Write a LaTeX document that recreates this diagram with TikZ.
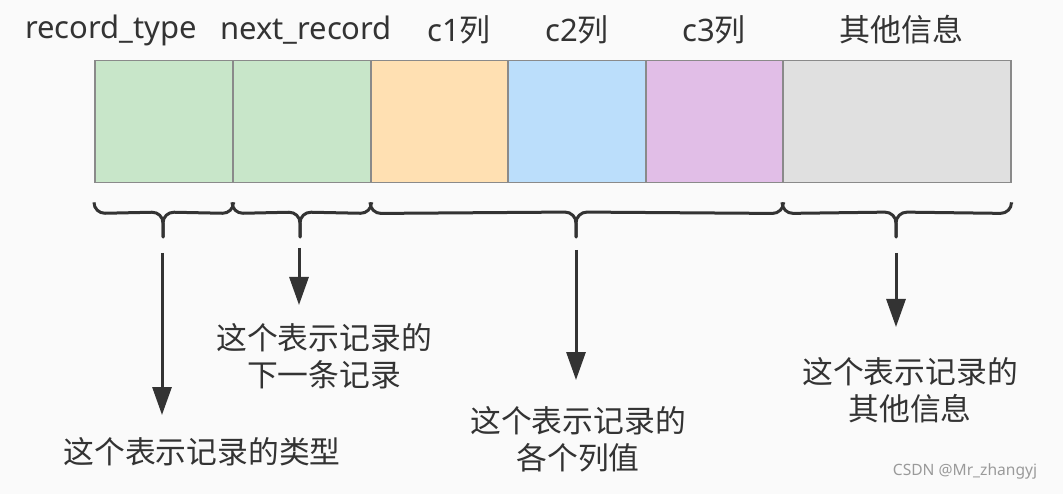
\documentclass[tikz,border=0pt]{standalone}
\usepackage{fontspec}
\setmainfont{Noto Sans}
\newfontfamily\cjk{Noto Sans CJK SC}
\usetikzlibrary{arrows.meta}
\definecolor{bgc}{HTML}{FAFAFA}
\definecolor{txt}{HTML}{333333}
\definecolor{edge}{HTML}{8A8A8A}
\definecolor{cgreen}{HTML}{C8E6C9}
\definecolor{corange}{HTML}{FFE0B2}
\definecolor{cblue}{HTML}{BBDEFB}
\definecolor{cpurple}{HTML}{E1BEE7}
\definecolor{cgray}{HTML}{E0E0E0}
\definecolor{wm}{HTML}{9A9A9A}
\tikzset{
  cell/.style={draw=edge, line width=1.5pt, inner sep=0pt, minimum height=122pt, anchor=north west},
  head/.style={text=txt, font=\fontsize{31}{37}\selectfont, inner sep=0pt},
  lbl/.style={text=txt, font=\fontsize{30.8}{37}\selectfont\cjk, align=center, inner sep=0pt},
  curly/.style={draw=txt, line width=3pt, rounded corners=11pt, line cap=round},
  arr/.style={draw=txt, line width=3pt, -{Triangle[length=28pt,width=19pt]}}
}
\begin{document}
\begin{tikzpicture}[x=1pt,y=-1pt]
\fill[bgc] (0,0) rectangle (1063,494);
\useasboundingbox (0,0) rectangle (1063,494);

% cells
\node[cell, fill=cgreen,  minimum width=138pt] (b1) at (94,60) {};
\node[cell, fill=cgreen,  minimum width=138pt] (b2) at (232,60) {};
\node[cell, fill=corange, minimum width=137pt] (b3) at (370,60) {};
\node[cell, fill=cblue,   minimum width=138pt] (b4) at (507,60) {};
\node[cell, fill=cpurple, minimum width=137pt] (b5) at (645,60) {};
\node[cell, fill=cgray,   minimum width=228pt] (b6) at (782,60) {};

% headings
\node[head] (h1) at (111,30) {record\_type};
\node[head] (h2) at (306,30) {next\_record};
\node[head] (h3) at (459,30) {c1{\cjk 列}};
\node[head] (h4) at (577,30) {c2{\cjk 列}};
\node[head] (h5) at (714,30) {c3{\cjk 列}};
\node[head] (h6) at (901,30) {\cjk 其他信息};

% braces
\coordinate (m1) at (163,182);
\coordinate (m2) at (300,182);
\coordinate (m3) at (576,182);
\coordinate (m4) at (896,182);
\foreach \l/\r/\m in {b1.south west/b1.south east/m1, b2.south west/b2.south east/m2, b3.south west/b5.south east/m3, b6.south west/b6.south east/m4}{
  \draw[curly] ([yshift=-20pt]\l) -- ([yshift=-30pt]\l) -- ([yshift=-30pt]\m) -- ([yshift=-55pt]\m);
  \draw[curly] ([yshift=-20pt]\r) -- ([yshift=-30pt]\r) -- ([yshift=-30pt]\m) -- ([yshift=-55pt]\m);
}

% labels
\node[lbl] (t1) at (202,452) {这个表示记录的类型};
\node[lbl] (t2) at (324,356) {这个表示记录的\\下一条记录};
\node[lbl] (t3) at (578,439) {这个表示记录的\\各个列值};
\node[lbl] (t4) at (910,390) {这个表示记录的\\其他信息};

% arrows
\coordinate (s1) at (162,253); \coordinate (e1) at (162,415);
\coordinate (s2) at (299,248); \coordinate (e2) at (299,305);
\coordinate (s3) at (576,250); \coordinate (e3) at (576,380);
\coordinate (s4) at (896,253); \coordinate (e4) at (896,327);
\draw[arr] (s1) -- (e1);
\draw[arr] (s2) -- (e2);
\draw[arr] (s3) -- (e3);
\draw[arr] (s4) -- (e4);

% watermark
\node[text=wm, font=\fontsize{15.6}{19}\selectfont, inner sep=0pt] (wmk) at (965,471) {CSDN @Mr\_zhangyj};
\end{tikzpicture}
\end{document}
